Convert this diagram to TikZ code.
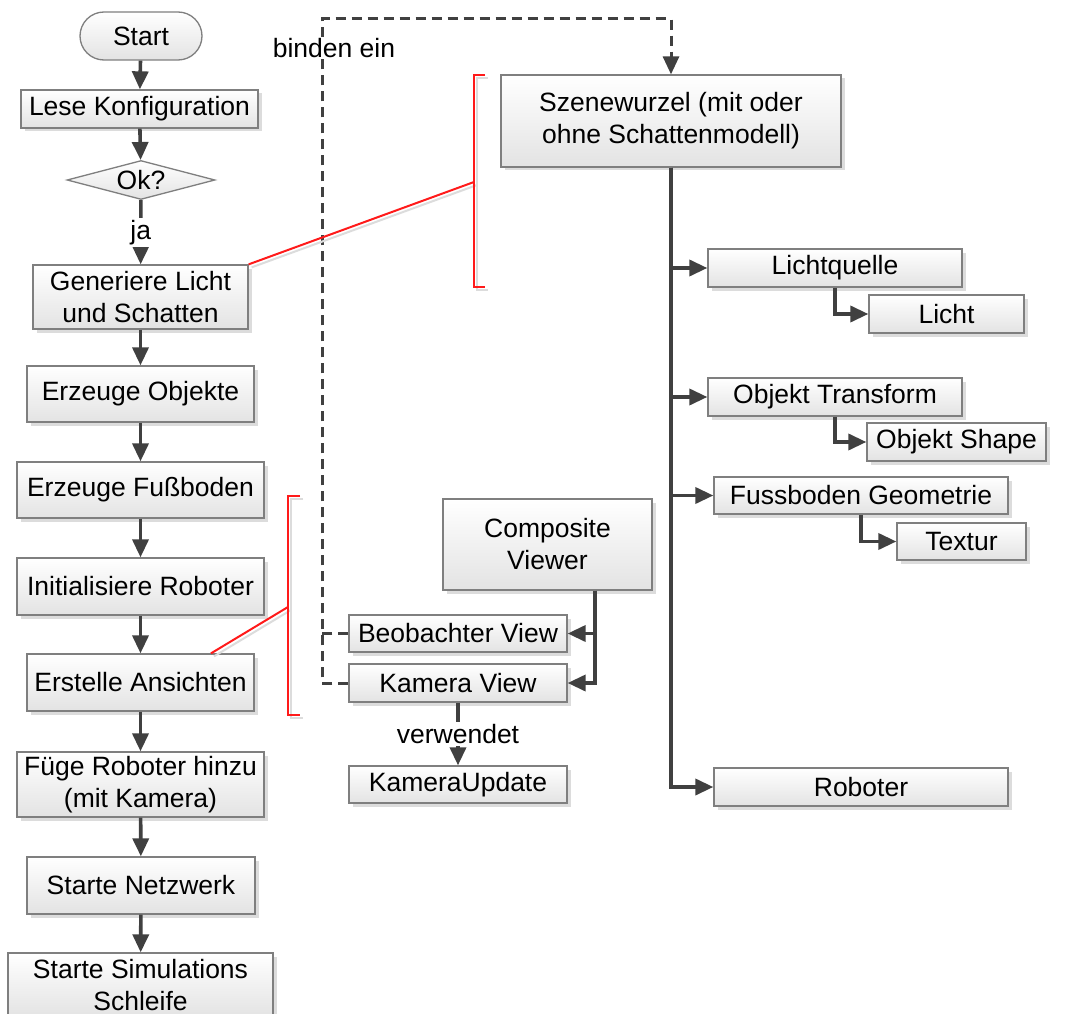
\documentclass[tikz,border=0pt]{standalone}
\usepackage{fontspec}
\setmainfont{Liberation Sans}
\usetikzlibrary{arrows.meta,shapes.geometric,shadows}
\definecolor{linkc}{HTML}{404040}
\definecolor{boxline}{HTML}{7F7F7F}
\definecolor{boxbottom}{HTML}{E3E3E3}
\definecolor{shadowc}{HTML}{DCDCDC}
\definecolor{notec}{HTML}{FF1A1A}
\begin{document}
\begin{tikzpicture}[x=1pt,y=-1pt,
  every node/.style={font=\fontsize{26.5}{32}\selectfont},
  box/.style={draw=boxline, line width=1.3pt, top color=white, bottom color=boxbottom,
    align=center, inner sep=0pt,
    drop shadow={shadow xshift=3.5pt, shadow yshift=-3.5pt, fill=shadowc, opacity=1}},
  plainbox/.style={draw=boxline, line width=1.3pt, top color=white, bottom color=boxbottom,
    align=center, inner sep=0pt},
  tip/.style={-{Triangle[length=18pt,width=16pt]}},
  arr/.style={draw=linkc, line width=3.6pt, tip},
  dashline/.style={draw=linkc, line width=3pt, dash pattern=on 10pt off 6pt},
  note/.style={draw=notec, line width=2pt},
  noteshadow/.style={draw=shadowc, line width=2pt},
  lbl/.style={fill=white, inner sep=2pt}]

\useasboundingbox[fill=white] (0,0) rectangle (1071,1014);

% ---- main flow ----
\node[plainbox, rounded corners=24pt, minimum width=122pt, minimum height=48pt] (start) at (141,36) {Start};
\node[box, minimum width=237pt, minimum height=38pt] (lese) at (139.5,109) {Lese Konfiguration};
\node[plainbox, shape=diamond, aspect=3.8, minimum width=148pt, minimum height=39pt] (ok) at (141,180) {Ok?};
\node[box, minimum width=215pt, minimum height=64pt] (gen) at (140.5,297) {Generiere Licht\\und Schatten};
\node[box, minimum width=227pt, minimum height=56pt] (obj) at (140.5,394) {Erzeuge Objekte};
\node[box, minimum width=247pt, minimum height=56pt] (fuss) at (140.5,490) {Erzeuge Fußboden};
\node[box, minimum width=247pt, minimum height=57pt] (init) at (140.5,586.5) {Initialisiere Roboter};
\node[box, minimum width=227pt, minimum height=57pt] (ansi) at (140.5,682.5) {Erstelle Ansichten};
\node[box, minimum width=247pt, minimum height=65pt] (fuege) at (140.5,784.5) {Füge Roboter hinzu\\(mit Kamera)};
\node[box, minimum width=228pt, minimum height=57pt] (netz) at (141,885.5) {Starte Netzwerk};
\node[box, minimum width=265pt, minimum height=64pt] (sim) at (140.5,985) {Starte Simulations\\Schleife};

\draw[arr] (start) -- (lese);
\draw[arr] (lese) -- (ok);
\draw[arr] (ok) -- node[lbl] {ja} (gen);
\draw[arr] (gen) -- (obj);
\draw[arr] (obj) -- (fuss);
\draw[arr] (fuss) -- (init);
\draw[arr] (init) -- (ansi);
\draw[arr] (ansi) -- (fuege);
\draw[arr] (fuege) -- (netz);
\draw[arr] (netz) -- (sim);

% ---- scene graph ----
\node[box, minimum width=340pt, minimum height=92pt] (szene) at (671,121) {Szenewurzel (mit oder\\ohne Schattenmodell)};
\node[box, minimum width=254pt, minimum height=38pt] (lq) at (835,268) {Lichtquelle};
\node[box, minimum width=155pt, minimum height=38pt] (licht) at (946.5,314) {Licht};
\node[box, minimum width=254pt, minimum height=38pt] (ot) at (835,397) {Objekt Transform};
\node[box, minimum width=179pt, minimum height=38pt] (oshape) at (956.5,442) {Objekt Shape};
\node[box, minimum width=294pt, minimum height=37pt] (fg) at (861,495.5) {Fussboden Geometrie};
\node[box, minimum width=129pt, minimum height=37pt] (textur) at (961.5,541.5) {Textur};
\node[box, minimum width=294pt, minimum height=38pt] (rob) at (861,787) {Roboter};

\draw[arr] (szene.south) |- (lq.west);
\draw[arr] (szene.south) |- (ot.west);
\draw[arr] (szene.south) |- (fg.west);
\draw[arr] (szene.south) |- (rob.west);
\draw[arr] (lq.south) |- (licht.west);
\draw[arr] (ot.south) |- (oshape.west);
\draw[arr] (fg.south) |- (textur.west);

% ---- views ----
\node[box, minimum width=209pt, minimum height=91pt] (comp) at (547.5,544.5) {Composite\\Viewer};
\node[box, minimum width=218pt, minimum height=37pt] (beo) at (458,633.5) {Beobachter View};
\node[box, minimum width=218pt, minimum height=38pt] (kam) at (458,683) {Kamera View};
\node[box, minimum width=218pt, minimum height=37pt] (kupd) at (458,784.5) {KameraUpdate};

\draw[arr] ([xshift=47.5pt]comp.south) |- (beo.east);
\draw[arr] ([xshift=47.5pt]comp.south) |- (kam.east);
\draw[arr] (kam) -- node[lbl] {verwendet} (kupd);

% ---- views are bound into the scene root ----
\coordinate (bind) at (322,19);
\draw[dashline] (beo.west) -- (beo.west -| bind);
\draw[dashline, tip] (kam.west) -| (bind) -| (szene.north);
\node[lbl, inner sep=1pt] (bindlbl) at (334,48) {binden ein};

% ---- annotation brackets ----
\coordinate (genref) at (gen.north east);
\coordinate (ansiref) at ([xshift=70.5pt]ansi.north);
\draw[noteshadow] (488,78) -- (477,78) -- (477,290) -- (488,290);
\draw[noteshadow] ([xshift=3pt,yshift=-3pt]genref) -- (477,185);
\draw[note] (485,75) -- (474,75) -- (474,287) -- (485,287);
\draw[note] (genref) -- (474,182);

\draw[noteshadow] (303,499) -- (291,499) -- (291,718) -- (303,718);
\draw[noteshadow] ([xshift=3pt,yshift=-3pt]ansiref) -- (291,610);
\draw[note] (300,496) -- (288,496) -- (288,715) -- (300,715);
\draw[note] (ansiref) -- (288,607);
\end{tikzpicture}
\end{document}
